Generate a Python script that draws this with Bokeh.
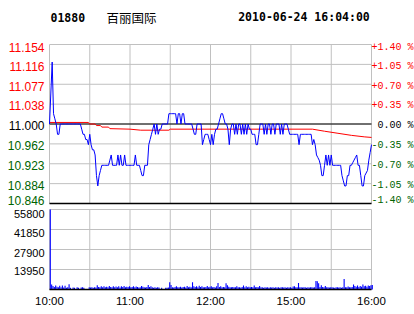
import numpy as np
from bokeh.plotting import figure
from bokeh.models import Range1d
from bokeh.core.properties import value
from bokeh.embed import file_html
from bokeh.resources import INLINE

# ---------------- data ----------------
stock_code = "01880"
stock_name = "百丽国际"
timestamp = "2010-06-24 16:04:00"
prev_close = 11.000

# minute index 0..240 (10:00-12:30, 14:30-16:00)
price = [
    11.00, 11.06, 11.12, 11.02, 11.01, 11.00, 10.98, 10.98, 11.00, 11.00,
    11.00, 11.00, 11.00, 11.00, 11.00, 11.00, 11.00, 11.00, 11.00, 11.00,
    11.00, 11.00, 11.00, 11.00, 10.99, 10.98, 10.98, 10.97, 10.97, 10.96,
    10.98, 10.96, 10.95, 10.95, 10.94, 10.90, 10.88, 10.90, 10.91, 10.92,
    10.92, 10.92, 10.92, 10.92, 10.92, 10.93, 10.94, 10.92, 10.92, 10.92,
    10.92, 10.94, 10.92, 10.94, 10.92, 10.92, 10.94, 10.92, 10.92, 10.92,
    10.92, 10.92, 10.92, 10.92, 10.94, 10.92, 10.92, 10.92, 10.91, 10.90,
    10.90, 10.92, 10.92, 10.92, 10.96, 10.97, 10.98, 10.99, 11.00, 10.98,
    11.00, 10.98, 10.99, 10.99, 11.00, 11.00, 11.00, 11.00, 11.00, 11.02,
    11.02, 11.02, 11.02, 11.02, 11.02, 11.00, 11.02, 11.02, 11.00, 11.02,
    11.02, 11.00, 11.00, 11.00, 11.00, 11.00, 11.00, 10.99, 10.98, 10.98,
    11.00, 11.00, 11.00, 11.00, 10.96, 10.97, 10.98, 10.98, 10.98, 10.97,
    10.96, 10.98, 10.96, 10.98, 10.99, 10.99, 11.00, 11.01, 11.02, 11.02,
    11.01, 11.00, 11.00, 10.99, 10.96, 10.99, 11.00, 11.00, 10.98, 11.00,
    10.98, 11.00, 11.00, 10.98, 11.00, 10.98, 11.00, 10.98, 11.00, 10.99,
    10.99, 10.98, 10.98, 10.98, 10.96, 10.96, 10.98, 11.00, 11.00, 11.00,
    10.98, 11.00, 10.98, 11.00, 11.00, 10.98, 11.00, 11.00, 10.98, 11.00,
    11.00, 11.00, 10.98, 11.00, 10.98, 11.00, 11.00, 11.00, 10.99, 10.98,
    10.98, 10.98, 10.98, 10.98, 10.98, 10.98, 10.96, 10.98, 10.98, 10.98,
    10.98, 10.98, 10.98, 10.98, 10.98, 10.98, 10.96, 10.97, 10.96, 10.94,
    10.935, 10.93, 10.92, 10.90, 10.90, 10.92, 10.94, 10.92, 10.94, 10.92,
    10.94, 10.92, 10.92, 10.92, 10.92, 10.92, 10.92, 10.92, 10.90, 10.89,
    10.88, 10.88, 10.90, 10.90, 10.92, 10.92, 10.925, 10.93, 10.935, 10.94,
    10.92, 10.92, 10.90, 10.88, 10.88, 10.90, 10.905, 10.91, 10.93, 10.945,
    10.96,
]

avg_minutes = [0, 29, 30, 34, 35, 38, 39, 44, 45, 60, 68, 89, 90, 196, 205, 215, 225, 235, 240]
avg_price = [11.003, 11.003, 11.000, 11.000, 10.997, 10.997, 10.994, 10.994, 10.991,
             10.990, 10.988, 10.988, 10.990, 10.990, 10.986, 10.982, 10.978, 10.975, 10.974]

volume = [
    55800, 3500, 2400, 1800, 2800, 2000, 1600, 2600, 1500, 2800,
    1400, 2600, 1300, 1500, 3600, 1200, 0, 1400, 1300, 0,
    1500, 1300, 0, 1400, 1500, 1200, 0, 0, 0, 1500,
    1400, 1600, 1300, 1500, 1400, 3000, 1800, 1500, 2200, 1500,
    2300, 1600, 2000, 1500, 2400, 1800, 1500, 2300, 1600, 2100,
    1500, 2300, 1400, 2200, 1800, 2400, 1500, 2000, 1800, 2200,
    1500, 1800, 2300, 1500, 2100, 1800, 1400, 1600, 2400, 1900,
    1500, 1400, 1700, 3100, 1800, 2200, 1500, 1300, 1600, 1200,
    1500, 1400, 0, 1200, 0, 0, 1300, 1200, 1400, 5000,
    3200, 1500, 1400, 1800, 2200, 1600, 1500, 2000, 1400, 1700,
    1900, 1400, 2400, 1500, 1900, 1500, 5000, 2300, 1800, 2300,
    1500, 2600, 1800, 2200, 1600, 1500, 1800, 2400, 1500, 1900,
    2200, 1500, 1800, 1400, 2200, 4500, 1800, 2300, 1500, 1700,
    1500, 4400, 2900, 2000, 1600, 1500, 1700, 1600, 1500, 2300,
    1500, 1600, 1400, 1800, 2800, 1500, 2200, 1500, 2000, 1600,
    1800, 1500, 2800, 1500, 1700, 1600, 2500, 1500, 1500, 1300,
    1600, 1400, 1500, 1300, 1600, 1400, 1500, 1300, 1600, 1400,
    1500, 1300, 1500, 1600, 1400, 1500, 1300, 1600, 1400, 1500,
    1300, 2100, 2300, 1500, 1600, 4600, 1500, 1500, 1400, 1600,
    1500, 1300, 1500, 1400, 1600, 1500, 1400, 1600, 5900, 5700,
    4300, 1800, 3000, 1800, 1500, 2500, 1500, 1500, 1400, 1600,
    1500, 1400, 1300, 1500, 1600, 1400, 1500, 1300, 1500, 7300,
    1600, 1500, 2100, 1500, 1600, 1800, 3500, 2500, 2000, 2800,
    1800, 2400, 1900, 3500, 2300, 2600, 2000, 2800, 2500, 2900,
    3200,
]
minutes = list(range(len(price)))

price_low, price_high = 10.846, 11.154
price_tick_labels = ["11.154", "11.116", "11.077", "11.038", "11.000",
                     "10.962", "10.923", "10.884", "10.846"]
pct_tick_labels = ["+1.40 %", "+1.05 %", "+0.70 %", "+0.35 %", "0.00 %",
                   "-0.35 %", "-0.70 %", "-1.05 %", "-1.40 %"]
volume_max = 55800
volume_ticks = [55800, 41850, 27900, 13950]
volume_tick_labels = ["55800", "41850", "27900", "13950"]
time_ticks = [0, 60, 120, 180, 240]
time_tick_labels = ["10:00", "11:00", "12:00", "15:00", "16:00"]
time_grid = [0, 30, 60, 90, 120, 150, 180, 210, 240]
session_start, session_end = 0, 240

# ---------------- styles / layout (pixels) ----------------
RED = "#ff0000"
GREEN = "#006400"
BLUE = "#0000ff"
GRID = "#c0c0c0"
W, H = 414, 314
PX_L, PX_R = 49, 371            # plot area left/right
PR_T, PR_B = 44, 203            # price panel top/bottom
VO_T, VO_B = 209, 289           # volume panel top/bottom
BAR_SHIFT = 0.6                 # bar drawn just right of its minute (in minutes)

kx = (session_end - session_start) / (PX_R - PX_L)
kp = (price_high - price_low) / (PR_B - PR_T)
kv = volume_max / (VO_B - VO_T)
x_range = Range1d(session_start - PX_L * kx, session_end + (W - PX_R) * kx)
y_range = Range1d(price_low - (H - PR_B) * kp, price_high + PR_T * kp)
vol_range = Range1d(0 - (H - VO_B) * kv, volume_max + VO_T * kv)

p = figure(width=W, height=H, x_range=x_range, y_range=y_range,
           output_backend="svg", toolbar_location=None,
           x_axis_location=None, y_axis_location=None,
           min_border=0, min_border_left=0, min_border_right=0,
           min_border_top=0, min_border_bottom=0,
           background_fill_color="white", border_fill_color="white",
           outline_line_color=None)
p.grid.visible = False
p.extra_y_ranges = {"vol": vol_range}

price_ticks = list(np.linspace(price_high, price_low, len(price_tick_labels)))
label_colors = [RED if t > prev_close + 1e-9 else ("black" if abs(t - prev_close) < 1e-9 else GREEN)
                for t in price_ticks]
price_label_dy = [2.7] + [1.8] * (len(price_ticks) - 2) + [-3.0]

# ---- volume panel ----
vol_grid_y = [0] + volume_ticks
p.segment(x0=time_grid, x1=time_grid, y0=0, y1=volume_max, line_color=GRID, line_width=1,
          y_range_name="vol")
p.segment(x0=session_start, x1=session_end, y0=vol_grid_y, y1=vol_grid_y, line_color=GRID,
          line_width=1, y_range_name="vol")
bar_x = [m + BAR_SHIFT for m in minutes]
p.segment(x0=bar_x, x1=bar_x, y0=[0] * len(volume), y1=volume,
          line_color=BLUE, line_width=1.1, y_range_name="vol")
p.segment(x0=[session_start], x1=[session_end], y0=[0], y1=[0], line_color="black",
          line_width=1.5, y_range_name="vol")

# ---- price panel ----
p.segment(x0=time_grid, x1=time_grid, y0=price_low, y1=price_high, line_color=GRID, line_width=1)
p.segment(x0=session_start, x1=session_end, y0=price_ticks, y1=price_ticks, line_color=GRID, line_width=1)
p.segment(x0=[session_start], x1=[session_end], y0=[prev_close], y1=[prev_close],
          line_color="black", line_width=1)
p.segment(x0=[session_start], x1=[session_end], y0=[price_low], y1=[price_low],
          line_color="black", line_width=1.5)

p.line(avg_minutes, avg_price, line_color=RED, line_width=1)
p.line(minutes, price, line_color=BLUE, line_width=1)

# ---- texts ----
p.text(x=[session_start] * len(price_ticks), y=price_ticks, text=price_tick_labels,
       text_color=label_colors, x_offset=-5, y_offset=price_label_dy,
       text_align="right", text_baseline="middle",
       text_font=value("Liberation Sans"), text_font_size=value("12px"))
p.text(x=[session_end] * len(price_ticks), y=price_ticks, text=pct_tick_labels,
       text_color=label_colors, x_offset=42, y_offset=price_label_dy,
       text_align="right", text_baseline="middle",
       text_font=value("Liberation Mono"), text_font_size=value("10px"))

p.text(x=[session_start] * len(volume_ticks), y=volume_ticks, text=volume_tick_labels,
       text_color="black", x_offset=-5, y_offset=[4.5, 3.2, 3.0, 1.8],
       text_align="right", text_baseline="middle",
       text_font=value("Liberation Sans"), text_font_size=value("11px"), y_range_name="vol")
p.text(x=time_ticks, y=[0] * len(time_ticks), text=time_tick_labels,
       text_color="black", y_offset=11,
       text_align="center", text_baseline="middle",
       text_font=value("Liberation Sans"), text_font_size=value("11.5px"), y_range_name="vol")

p.text(x=[session_start], y=[price_high], text=[stock_code], x_offset=1, y_offset=-27.5,
       text_color="black", text_baseline="middle", text_align="left",
       text_font=value("DejaVu Sans Mono"), text_font_style="bold", text_font_size=value("11.5px"))
p.text(x=[session_start], y=[price_high], text=[stock_name], x_offset=57, y_offset=-27.5,
       text_color="black", text_baseline="middle", text_align="left",
       text_font=value("Noto Sans CJK SC"), text_font_size=value("12.5px"))
p.text(x=[session_start], y=[price_high], text=[timestamp], x_offset=188.7, y_offset=-27.5,
       text_color="black", text_baseline="middle", text_align="left",
       text_font=value("DejaVu Sans Mono"), text_font_style="bold", text_font_size=value("11.5px"))

open("out.html", "w").write(file_html(p, INLINE))
